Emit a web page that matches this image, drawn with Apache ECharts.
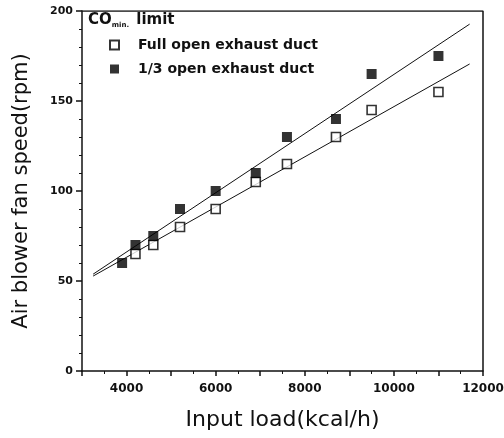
<!DOCTYPE html>
<html>
<head>
<meta charset="utf-8">
<script src="https://cdn.jsdelivr.net/npm/echarts@6/dist/echarts.min.js"></script>
<style>
  html, body { margin: 0; padding: 0; background: #fff; }
  #chart { width: 504px; height: 438px; }
</style>
</head>
<body>
<div id="chart"></div>
<script>
// measured points (Input load kcal/h, fan speed rpm)
const fullLoad  = [4200, 4600, 5200, 6000, 6900, 7600, 8700, 9500, 11000];
const fullSpeed = [65, 70, 80, 90, 105, 115, 130, 145, 155];
const thirdLoad  = [3900, 4200, 4600, 5200, 6000, 6900, 7600, 8700, 9500, 11000];
const thirdSpeed = [60, 70, 75, 90, 100, 110, 130, 140, 165, 175];
// range over which the fit lines are drawn
const fitRange = [3250, 11700];

const xTicks = [4000, 6000, 8000, 10000, 12000];
const yTicks = [0, 50, 100, 150, 200];

// least squares line through the points
function linFit(xs, ys) {
    const n = xs.length;
    const mx = xs.reduce((a, b) => a + b, 0) / n;
    const my = ys.reduce((a, b) => a + b, 0) / n;
    let sxy = 0, sxx = 0;
    for (let i = 0; i < n; i++) {
        sxy += (xs[i] - mx) * (ys[i] - my);
        sxx += (xs[i] - mx) * (xs[i] - mx);
    }
    const k = sxy / sxx;
    const b = my - k * mx;
    return fitRange.map(x => [x, k * x + b]);
}

const pairs = (xs, ys) => xs.map((x, i) => [x, ys[i]]);

const chart = echarts.init(document.getElementById('chart'));
const font = 'DejaVu Sans, sans-serif';

chart.setOption({
    animation: false,
    backgroundColor: '#fff',
    grid: { left: 82, right: 21, top: 11, bottom: 67, outerBoundsMode: 'none', containLabel: false },
    legend: {
        left: 104, top: 33,
        orient: 'vertical',
        itemWidth: 9, itemHeight: 9, itemGap: 10,
        data: [
            { name: 'Full open exhaust duct', icon: 'rect' },
            { name: '1/3 open exhaust duct', icon: 'rect' }
        ],
        textStyle: { fontFamily: font, fontSize: 14, fontWeight: 'bold', color: '#111', padding: [0, 0, 0, 14] }
    },
    graphic: [{
        type: 'text', left: 88, top: 13,
        style: {
            text: '{a|CO}{s|min.}{a| limit}',
            rich: {
                a: { fontFamily: font, fontSize: 15, fontWeight: 'bold', fill: '#111' },
                s: { fontFamily: font, fontSize: 7, fontWeight: 'bold', fill: '#111', verticalAlign: 'bottom', padding: [10, 2, 0, 0] }
            }
        }
    }],
    xAxis: {
        type: 'value', min: 3000, max: 12000, interval: 1000,
        name: 'Input load(kcal/h)', nameLocation: 'middle', nameGap: 38,
        nameTextStyle: { fontFamily: font, fontSize: 22, color: '#111' },
        axisLine: { lineStyle: { color: '#111', width: 1.5 } },
        axisTick: { show: true, length: 5, lineStyle: { color: '#111', width: 1.5 } },
        minorTick: { show: true, splitNumber: 2, length: 3, lineStyle: { color: '#111' } },
        axisLabel: {
            fontFamily: font, fontSize: 12, fontWeight: 'bold', color: '#111', margin: 12,
            formatter: v => xTicks.includes(v) ? String(v) : ''
        },
        splitLine: { show: false }
    },
    yAxis: {
        type: 'value', min: 0, max: 200, interval: 50,
        name: 'Air blower fan speed(rpm)', nameLocation: 'middle', nameGap: 50, nameRotate: 90,
        nameTextStyle: { fontFamily: font, fontSize: 21, color: '#111' },
        axisLine: { lineStyle: { color: '#111', width: 1.5 } },
        axisTick: { show: true, length: 6, lineStyle: { color: '#111', width: 1.5 } },
        minorTick: { show: true, splitNumber: 5, length: 3, lineStyle: { color: '#111' } },
        axisLabel: {
            fontFamily: font, fontSize: 11, fontWeight: 'bold', color: '#111', margin: 9,
            formatter: v => yTicks.includes(v) ? String(v) : ''
        },
        splitLine: { show: false }
    },
    series: [
        {
            name: 'Full open exhaust duct', type: 'scatter', symbol: 'rect', symbolSize: 9,
            itemStyle: { color: '#fff', borderColor: '#000', borderWidth: 1.6 },
            data: pairs(fullLoad, fullSpeed), z: 5
        },
        {
            name: '1/3 open exhaust duct', type: 'scatter', symbol: 'rect', symbolSize: 10,
            itemStyle: { color: '#000' },
            data: pairs(thirdLoad, thirdSpeed), z: 5
        },
        {
            name: 'fit full', type: 'line', symbol: 'none', silent: true,
            lineStyle: { color: '#111', width: 1 },
            data: linFit(fullLoad, fullSpeed)
        },
        {
            name: 'fit third', type: 'line', symbol: 'none', silent: true,
            lineStyle: { color: '#111', width: 1 },
            data: linFit(thirdLoad, thirdSpeed)
        },
        {
            // top and right frame
            type: 'line', symbol: 'none', silent: true,
            lineStyle: { color: '#111', width: 1.5 },
            data: [[3000, 200], [12000, 200], [12000, 0]]
        }
    ]
});
</script>
</body>
</html>
